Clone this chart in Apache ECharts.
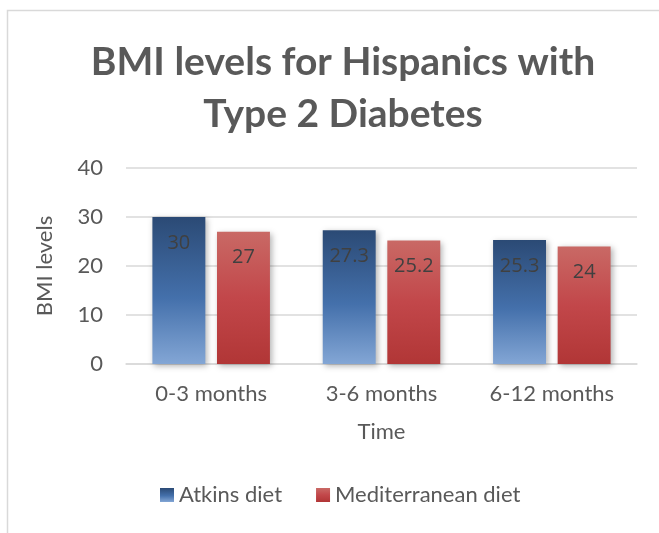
<!DOCTYPE html>
<html>
<head>
<meta charset="utf-8">
<script src="https://cdn.jsdelivr.net/npm/echarts@6/dist/echarts.min.js"></script>
<style>
  html, body { margin: 0; padding: 0; background: #fff; }
  #chart { width: 659px; height: 533px; }
</style>
</head>
<body>
<div id="chart"></div>
<script>
// data
const categories = ['0-3 months', '3-6 months', '6-12 months'];
const atkins = [30, 27.3, 25.3];
const mediterranean = [27, 25.2, 24];
const seriesNames = ['Atkins diet', 'Mediterranean diet'];

const FONT = 'Lato, "Open Sans", sans-serif';
const LABEL_FONT = '"Open Sans", sans-serif';

// 막대 그라데이션 (위 진하게 → 아래 밝게)
const blueGrad = new echarts.graphic.LinearGradient(0, 0, 0, 1, [
  { offset: 0, color: '#2b4a75' },
  { offset: 0.55, color: '#4470ab' },
  { offset: 1, color: '#83a6d5' }
]);
const redGrad = new echarts.graphic.LinearGradient(0, 0, 0, 1, [
  { offset: 0, color: '#c96965' },
  { offset: 0.5, color: '#c2474a' },
  { offset: 1, color: '#b13636' }
]);

const labelStyle = {
  show: true,
  position: 'insideTop',
  distance: 16,
  color: '#404040',
  fontSize: 20,
  fontFamily: LABEL_FONT
};
const shadow = { shadowBlur: 6, shadowColor: 'rgba(0,0,0,0.3)', shadowOffsetX: 2, shadowOffsetY: 2 };

const chart = echarts.init(document.getElementById('chart'), null, { renderer: 'canvas' });
chart.setOption({
  backgroundColor: '#fff',
  animation: false,
  graphic: [{
    type: 'rect',
    shape: { x: 7.5, y: 10.5, width: 700, height: 600 },
    style: { fill: 'none', stroke: '#d9d9d9', lineWidth: 1.5 },
    silent: true
  }],
  title: {
    text: 'BMI levels for Hispanics with\nType 2 Diabetes',
    left: 338,
    textAlign: 'center',
    top: 31,
    textStyle: {
      fontFamily: FONT,
      fontWeight: 'bold',
      fontSize: 39,
      lineHeight: 52,
      color: '#595959'
    }
  },
  legend: {
    bottom: 22,
    left: 155,
    itemWidth: 14,
    itemHeight: 14,
    itemGap: 34,
    icon: 'rect',
    data: seriesNames,
    textStyle: { fontFamily: FONT, fontSize: 22, color: '#595959' }
  },
  grid: { left: 126, right: 22, top: 168, bottom: 169 },
  xAxis: {
    type: 'category',
    data: categories,
    name: 'Time',
    nameLocation: 'middle',
    nameGap: 57,
    nameTextStyle: { fontFamily: FONT, fontSize: 22, color: '#595959' },
    axisLine: { lineStyle: { color: '#d9d9d9', width: 1.5 } },
    axisTick: { show: false },
    axisLabel: { margin: 19, fontFamily: FONT, fontSize: 22, color: '#595959' }
  },
  yAxis: {
    type: 'value',
    min: 0,
    max: 40,
    interval: 10,
    name: 'BMI levels',
    nameLocation: 'middle',
    nameGap: 70,
    nameTextStyle: { fontFamily: FONT, fontSize: 22, color: '#595959' },
    axisLine: { show: false },
    axisTick: { show: false },
    axisLabel: { margin: 23, fontFamily: FONT, fontSize: 22, color: '#595959' },
    splitLine: { lineStyle: { color: '#d9d9d9', width: 1.5 } }
  },
  series: [
    {
      name: seriesNames[0],
      type: 'bar',
      data: atkins,
      barGap: '22%',
      barCategoryGap: '31%',
      itemStyle: Object.assign({ color: blueGrad }, shadow),
      label: labelStyle
    },
    {
      name: seriesNames[1],
      type: 'bar',
      data: mediterranean,
      itemStyle: Object.assign({ color: redGrad }, shadow),
      label: labelStyle
    }
  ]
});
</script>
</body>
</html>
